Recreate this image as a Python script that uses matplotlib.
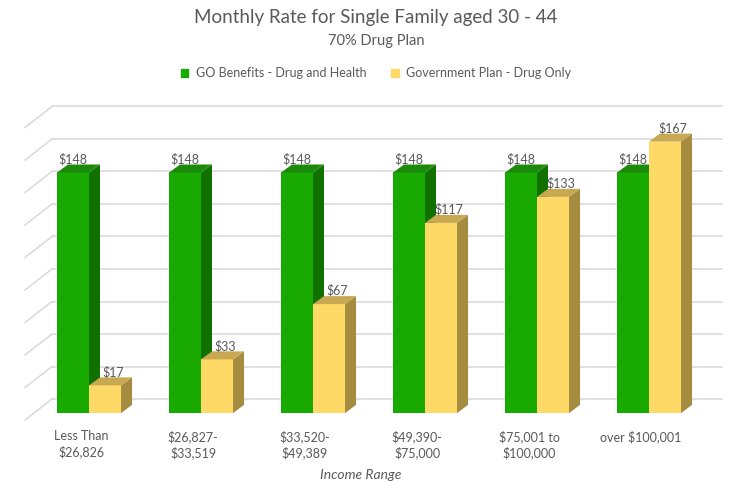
import matplotlib.pyplot as plt
from matplotlib.patches import Polygon, Patch

plt.rcParams['font.family'] = ['Lato', 'DejaVu Sans']

categories = ['Less Than\n$26,826', '$26,827-\n$33,519', '$33,520-\n$49,389',
              '$49,390-\n$75,000', '$75,001 to\n$100,000', 'over $100,001']
go_benefits = [148, 148, 148, 148, 148, 148]
gov_plan = [17, 33, 67, 117, 133, 167]
series_names = ['GO Benefits - Drug and Health', 'Government Plan - Drug Only']
grid_values = list(range(0, 181, 20))

TEXT = '#595959'
GREEN = ('#19aa02', '#107000', '#1c8a0a')   # front, side, top
YELLOW = ('#ffd966', '#a68c40', '#c8a850')

W, H = 752, 500
fig = plt.figure(figsize=(W / 100, H / 100), dpi=100)
ax = fig.add_axes([0, 0, 1, 1])

# pixel layout -> data units
X0, PXX = 89, 112      # px of category 0 centre, px per category
Y0, PXY = 413, 1.625   # px of value 0 (bar fronts), px per unit
ax.set_xlim(-X0 / PXX, (W - X0) / PXX)
ax.set_ylim(-(H - Y0) / PXY, Y0 / PXY)
ax.axis('off')

bw = 32 / PXX          # bar width
ddx, ddy = 11 / PXX, 8 / PXY   # bar depth offset

# back wall gridlines with the floor diagonals
back_dy = 14 / PXY
gx0, gx1, gxf = (52 - X0) / PXX, (722 - X0) / PXX, (25 - X0) / PXX
for v in grid_values:
    yb = v + back_dy
    ax.plot([gx0, gx1], [yb, yb], color='#d9d9d9', lw=1.1, zorder=1)
    ax.plot([gxf, gx0], [yb - 21 / PXY, yb], color='#d9d9d9', lw=1.1, zorder=1)


def bar3d(x, v, cols, z):
    front, side, top = cols
    ax.bar(x, v, width=bw, color=front, zorder=z, linewidth=0)
    l, r = x - bw / 2, x + bw / 2
    ax.add_patch(Polygon([(r, 0), (r + ddx, ddy), (r + ddx, v + ddy), (r, v)],
                         closed=True, fc=side, ec='none', zorder=z))
    ax.add_patch(Polygon([(l, v), (r, v), (r + ddx, v + ddy), (l + ddx, v + ddy)],
                         closed=True, fc=top, ec='none', zorder=z))


for i, (g, y) in enumerate(zip(go_benefits, gov_plan)):
    xg, xy = i - bw / 2, i + bw / 2
    bar3d(xg, g, GREEN, 2)
    bar3d(xy, y, YELLOW, 3)
    ax.text(xg, g + 8.3, f'${g}', ha='center', va='center', fontsize=9,
            color=TEXT, zorder=5)
    ax.text(xy + 8 / PXX, y + 8.3, f'${y}', ha='center', va='center', fontsize=9,
            color=TEXT, zorder=5)
    ax.text(i - 8 / PXX, (Y0 - 430) / PXY, categories[i], ha='center', va='top',
            multialignment='center', fontsize=9, color=TEXT, linespacing=1.35)

fig.text(361 / W, 1 - 475 / H, 'Income Range', ha='center', va='center',
         fontsize=10, style='italic', color=TEXT)
fig.text(0.5, 1 - 17 / H, 'Monthly Rate for Single Family aged 30 - 44',
         ha='center', va='center', fontsize=13.5, color=TEXT)
fig.text(0.5, 1 - 41 / H, '70% Drug Plan', ha='center', va='center',
         fontsize=10.5, color=TEXT)

handles = [Patch(color=GREEN[0]), Patch(color=YELLOW[0])]
fig.legend(handles, series_names, loc='center', bbox_to_anchor=(0.5, 1 - 73 / H),
           ncol=2, frameon=False, fontsize=9, labelcolor=TEXT,
           handlelength=0.6, handleheight=0.6, handletextpad=0.6, columnspacing=2.0)

fig.savefig('out.png', dpi=100)
